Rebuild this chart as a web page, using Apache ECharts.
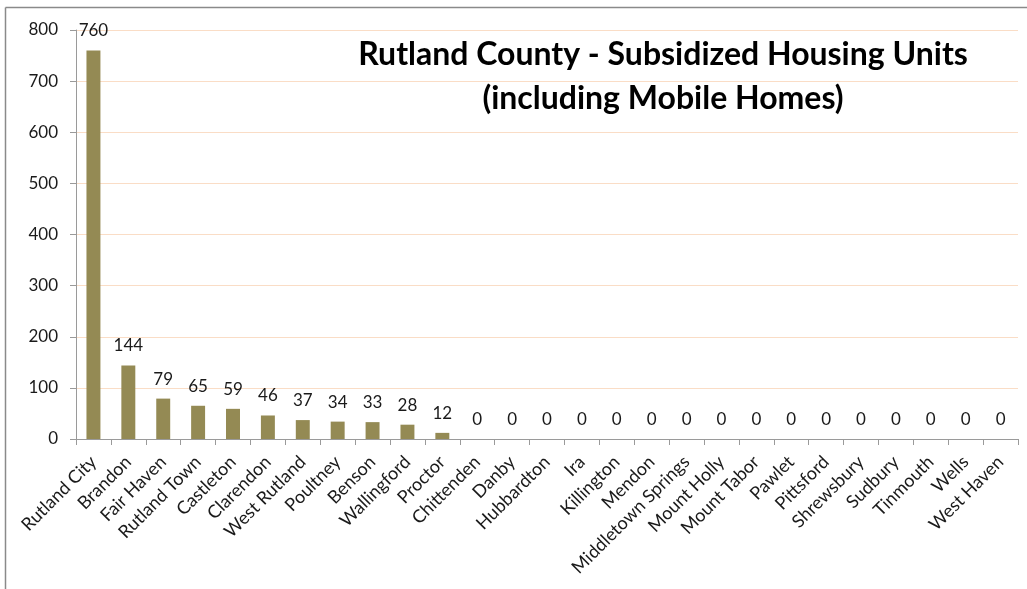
<!DOCTYPE html>
<html>
<head>
<meta charset="utf-8">
<script src="https://cdn.jsdelivr.net/npm/echarts@6/dist/echarts.min.js"></script>
<style>html,body{margin:0;padding:0;background:#fff}#c{width:1027px;height:589px}</style>
</head>
<body>
<div id="c"></div>
<script>
const categories = ["Rutland City","Brandon","Fair Haven","Rutland Town","Castleton","Clarendon","West Rutland","Poultney","Benson","Wallingford","Proctor","Chittenden","Danby","Hubbardton","Ira","Killington","Mendon","Middletown Springs","Mount Holly","Mount Tabor","Pawlet","Pittsford","Shrewsbury","Sudbury","Tinmouth","Wells","West Haven"];
const units = [760,144,79,65,59,46,37,34,33,28,12,0,0,0,0,0,0,0,0,0,0,0,0,0,0,0,0];
const yTicks = {min:0, max:800, interval:100};
const titleLines = ["Rutland County - Subsidized Housing Units","(including Mobile Homes)"];

const chart = echarts.init(document.getElementById('c'), null, {renderer:'canvas'});
const FONT = 'Lato';
chart.setOption({
  animation:false,
  backgroundColor:'#fff',
  title:{
    text: titleLines.join('\n'),
    left: 658, top: 28, textAlign:'center',
    textStyle:{fontFamily:FONT, fontWeight:'bold', fontSize:32, color:'#000', lineHeight:44}
  },
  grid:{left:76, right:9, top:30, bottom:150, containLabel:false},
  xAxis:{
    type:'category', data:categories, boundaryGap:true,
    axisLine:{lineStyle:{color:'#9a9a9a', width:1}},
    axisTick:{show:true, length:6, alignWithLabel:false, lineStyle:{color:'#9a9a9a'}},
    axisLabel:{interval:0, rotate:45, margin:20, fontFamily:FONT, fontSize:18, color:'#1a1a1a'},
    splitLine:{show:false}
  },
  yAxis:{
    type:'value', min:yTicks.min, max:yTicks.max, interval:yTicks.interval,
    axisLine:{show:true, lineStyle:{color:'#9a9a9a', width:1}},
    axisTick:{show:true, length:6, lineStyle:{color:'#9a9a9a'}},
    axisLabel:{margin:18, fontFamily:FONT, fontSize:17, color:'#1a1a1a'},
    splitLine:{show:true, lineStyle:{color:'#FADDC6', width:1}}
  },
  series:[{
    type:'bar', data:units, barWidth:'40%',
    itemStyle:{color:'#948A54'},
    label:{show:true, position:'top', distance:11, fontFamily:FONT, fontSize:17, color:'#1a1a1a'}
  }],
  graphic:[
    {type:'line', shape:{x1:5.5,y1:7.5,x2:1027,y2:7.5}, style:{stroke:'#8a8a8a', lineWidth:1.5}},
    {type:'line', shape:{x1:5.5,y1:7.5,x2:5.5,y2:589}, style:{stroke:'#8a8a8a', lineWidth:1.5}}
  ]
});
</script>
</body>
</html>
